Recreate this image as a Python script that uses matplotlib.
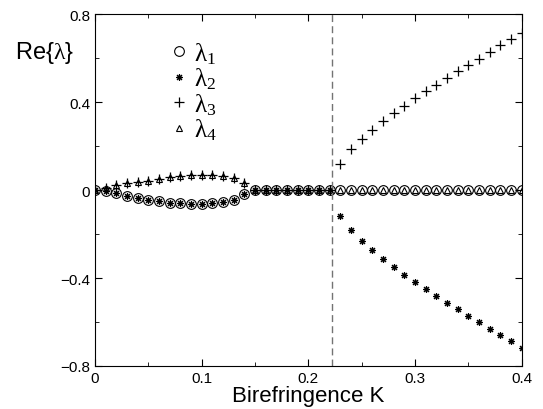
import numpy as np
import matplotlib
matplotlib.use('Agg')
from matplotlib import pyplot as plt
from matplotlib.ticker import FixedLocator, FixedFormatter

plt.rcParams['font.family'] = ['Liberation Sans', 'DejaVu Sans']
plt.rcParams['mathtext.fontset'] = 'custom'
plt.rcParams['mathtext.rm'] = 'Liberation Serif'
plt.rcParams['mathtext.it'] = 'Liberation Serif'

# data ------------------------------------------------------------------

K = [0.00, 0.01, 0.02, 0.03, 0.04, 0.05, 0.06, 0.07, 0.08, 0.09,
     0.10, 0.11, 0.12, 0.13, 0.14, 0.15, 0.16, 0.17, 0.18, 0.19,
     0.20, 0.21, 0.22, 0.23, 0.24, 0.25, 0.26, 0.27, 0.28, 0.29,
     0.30, 0.31, 0.32, 0.33, 0.34, 0.35, 0.36, 0.37, 0.38, 0.39, 0.40]

upper = [0.0, 0.008, 0.024, 0.032, 0.038, 0.042, 0.050, 0.059, 0.066, 0.070,
         0.070, 0.068, 0.064, 0.053, 0.032]
lower = [0.0, -0.003, -0.015, -0.029, -0.038, -0.044, -0.051, -0.058, -0.060, -0.062,
         -0.062, -0.058, -0.053, -0.044, -0.018]
flat = [0.0] * 8     # K = 0.15 .. 0.22
rising = [0.118, 0.186, 0.232, 0.274, 0.314, 0.350, 0.383, 0.417, 0.450,
          0.480, 0.510, 0.540, 0.571, 0.598, 0.629, 0.659, 0.686, 0.714]
falling = [-0.120, -0.182, -0.232, -0.274, -0.315, -0.350, -0.385, -0.420, -0.451,
           -0.483, -0.512, -0.542, -0.573, -0.600, -0.632, -0.661, -0.688, -0.718]
zeros_hi = [0.0] * 18

lam1 = lower + flat + zeros_hi
lam2 = lower + flat + falling
lam3 = upper + flat + rising
lam4 = upper + flat + zeros_hi

K_crit = 0.222

# ------------------------------------------------------------------------

fig = plt.figure(figsize=(5.43, 4.10), dpi=100)
ax = fig.add_axes([0.175, 0.105, 0.786, 0.858])

ax.plot(K, lam1, 'o', ls='none', mfc='none', mec='k', ms=7, mew=0.8, label='\u03bb$_1$')
ax.plot(K, lam2, marker=(8, 2, 0), ls='none', color='k', ms=5, mew=0.8, label='\u03bb$_2$')
ax.plot(K, lam3, '+', ls='none', color='k', ms=7.5, mew=0.9, label='\u03bb$_3$')
ax.plot(K, lam4, '^', ls='none', mfc='none', mec='k', ms=5, mew=0.8, label='\u03bb$_4$')

ax.axvline(K_crit, color='0.45', ls=(0, (5, 3)), lw=1.0)

ax.set_xlim(0, 0.4)
ax.set_ylim(-0.8, 0.8)

ax.xaxis.set_major_locator(FixedLocator([0, 0.1, 0.2, 0.3, 0.4]))
ax.xaxis.set_major_formatter(FixedFormatter(['0', '0.1', '0.2', '0.3', '0.4']))
ax.xaxis.set_minor_locator(FixedLocator([0.05, 0.15, 0.25, 0.35]))
ax.yaxis.set_major_locator(FixedLocator([-0.8, -0.4, 0, 0.4, 0.8]))
ax.yaxis.set_major_formatter(FixedFormatter(['\u22120.8', '\u22120.4', '0', '0.4', '0.8']))
ax.yaxis.set_minor_locator(FixedLocator([-0.6, -0.2, 0.2, 0.6]))

ax.tick_params(which='both', direction='in', top=True, right=True, labelsize=11)
ax.tick_params(which='major', length=5)
ax.tick_params(which='minor', length=3)

ax.set_xlabel('Birefringence K', fontsize=16, labelpad=0)
fig.text(0.027, 0.87, r'Re{$\mathrm{\lambda}$}', fontsize=17, ha='left', va='center')

ax.legend(loc='upper left', bbox_to_anchor=(0.145, 0.955), frameon=False,
          handletextpad=0.1, labelspacing=0.0, handlelength=1.0,
          borderaxespad=0, prop={'family': 'Liberation Serif', 'size': 18})

fig.savefig('out.png', dpi=100)
